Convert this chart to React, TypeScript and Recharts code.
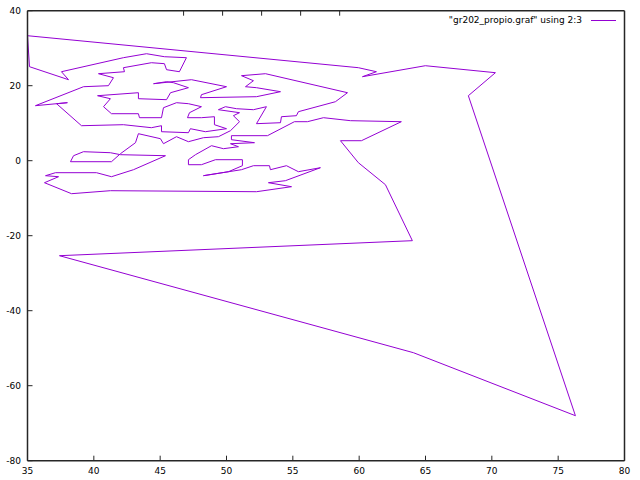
import { Legend, Line, LineChart, XAxis, YAxis } from "recharts";

// tour order (column 2 = x, column 3 = y)
const tourX = [
  35.0, 59.94, 61.3, 60.25, 64.99, 70.27, 68.23, 76.3, 64.09, 37.41,
  64.01, 61.98, 59.94, 58.59, 60.17, 63.18, 59.34, 57.31, 56.1, 55.12,
  53.09, 50.37, 50.37, 52.11, 50.3, 50.9, 49.77, 48.87, 47.66, 47.13,
  47.13, 48.11, 49.17, 51.2, 51.2, 50.15, 48.26, 51.13, 52.03, 53.24,
  53.31, 54.52, 55.42, 57.08, 54.44, 53.16, 54.9, 52.26, 41.25, 38.32,
  36.28, 37.34, 36.36, 37.11, 40.2, 41.33, 42.99, 45.4, 42.01, 41.25,
  39.22, 38.47, 38.24, 41.33, 42.01, 43.14, 43.36, 45.02, 45.25, 46.23,
  47.13, 48.26, 49.39, 50.3, 50.98, 50.52, 50.98, 49.39, 49.92, 50.75,
  52.03, 53.01, 52.26, 54.07, 54.14, 55.27, 55.42, 58.21, 59.12, 52.94,
  51.13, 52.03, 51.43, 52.26, 54.07, 52.26, 48.04, 48.11, 50.0, 47.36,
  44.5, 45.48, 46.0, 47.13, 45.78, 45.48, 43.36, 43.36, 40.28, 41.25,
  40.73, 41.33, 43.36, 43.44, 45.1, 45.25, 46.23, 47.13, 48.11, 47.21,
  47.06, 48.11, 49.09, 49.09, 50.0, 48.41, 47.28, 47.13, 45.1, 45.1,
  44.34, 42.23, 39.07, 37.19, 38.01, 35.6, 39.22, 41.1, 41.48, 40.35,
  42.31, 42.23, 44.34, 45.32, 45.48, 46.45, 46.98, 45.32, 43.97, 42.23,
  37.56, 38.09, 35.15, 35.0,
];

const tourY = [
  33.33, 24.8, 23.73, 22.4, 25.33, 23.47, 17.33, -68.0, -51.2, -25.33,
  -21.33, -6.4, -0.53, 5.33, 5.33, 10.4, 10.67, 11.47, 10.4, 10.4,
  6.67, 6.67, 5.6, 4.8, 4.53, 3.73, 3.2, 4.0, 1.6, 0.27,
  -1.07, -1.07, 0.27, 0.27, -1.33, -2.93, -4.0, -2.4, -1.33, -1.33,
  -2.4, -1.33, -2.93, -1.87, -5.33, -5.87, -6.93, -8.27, -8.0, -8.8,
  -5.87, -4.27, -4.0, -3.2, -3.2, -4.27, -2.4, 1.33, 1.6, 2.13,
  2.4, 1.33, -0.27, -0.27, 1.87, 4.8, 7.2, 5.87, 4.53, 6.4,
  5.07, 6.13, 6.4, 8.0, 10.4, 12.0, 12.8, 13.6, 14.4, 13.87,
  13.6, 14.4, 9.87, 10.13, 11.73, 12.0, 13.07, 15.73, 18.13, 23.2,
  22.67, 21.33, 19.73, 19.47, 18.4, 17.07, 16.8, 17.6, 19.73, 21.6,
  20.53, 21.07, 20.8, 19.47, 18.13, 16.27, 16.53, 18.13, 17.33, 16.53,
  14.4, 12.53, 12.53, 11.47, 11.47, 14.13, 15.47, 15.2, 14.4, 12.8,
  11.47, 11.47, 11.73, 9.6, 8.53, 7.73, 8.53, 7.47, 7.73, 9.33,
  8.8, 9.6, 9.33, 15.2, 15.47, 14.67, 19.73, 20.0, 22.13, 23.2,
  23.73, 24.8, 26.13, 25.87, 24.27, 23.73, 27.47, 27.73, 28.53, 27.47,
  23.73, 21.6, 25.07, 33.33,
];

const xTicks = [35, 40, 45, 50, 55, 60, 65, 70, 75, 80];
const yTicks = [-80, -60, -40, -20, 0, 20, 40];

const seriesName = '"gr202_propio.graf" using 2:3';
const lineColor = "#9400d3";
const frameColor = "#262626";

const data = tourX.map((x, i) => ({ x, y: tourY[i] }));

const font = { fontFamily: "DejaVu Sans", fontSize: 9, fill: "#000" };

// gnuplot style: short ticks pointing into the plot, labels outside
function BottomTick(props: any) {
  const { x, y, payload } = props;
  return (
    <g>
      <line x1={x} x2={x} y1={y - 7} y2={y - 12} stroke={frameColor} />
      <text x={x} y={y} dy="0.71em" textAnchor="middle" {...font}>
        {payload.value}
      </text>
    </g>
  );
}

function TopTick(props: any) {
  const { x, y } = props;
  return <line x1={x} x2={x} y1={y} y2={y + 5} stroke={frameColor} />;
}

function LeftTick(props: any) {
  const { x, y, payload } = props;
  return (
    <g>
      <line x1={x + 6.5} x2={x + 11.5} y1={y} y2={y} stroke={frameColor} />
      <text x={x} y={y} dy="0.355em" textAnchor="end" {...font}>
        {payload.value}
      </text>
    </g>
  );
}

function RightTick(props: any) {
  const { x, y } = props;
  return <line x1={x} x2={x - 5} y1={y} y2={y} stroke={frameColor} />;
}

function KeyBox() {
  return (
    <div
      style={{
        display: "flex",
        alignItems: "center",
        justifyContent: "flex-end",
        fontFamily: "DejaVu Sans",
        fontSize: 9,
        color: "#000",
      }}
    >
      <span>{seriesName}</span>
      <div style={{ width: 25, height: 1, background: lineColor, marginLeft: 9 }} />
    </div>
  );
}

export default function App() {
  return (
    <div style={{ position: "fixed", left: 0, top: 0, width: 640, height: 480, background: "#fff" }}>
      <LineChart
        width={640}
        height={480}
        data={data}
        margin={{ top: 0, right: 0, bottom: 0, left: 0 }}
      >
        <XAxis
          xAxisId="b"
          dataKey="x"
          type="number"
          domain={[35, 80]}
          ticks={xTicks}
          allowDataOverflow
          height={19.3}
          tickSize={0}
          tickMargin={7}
          tickLine={false}
          tick={<BottomTick />}
          axisLine={{ stroke: frameColor, strokeWidth: 1.5 }}
        />
        <XAxis
          xAxisId="t"
          orientation="top"
          type="number"
          domain={[35, 80]}
          ticks={xTicks}
          height={10.7}
          tickSize={0}
          tickMargin={0}
          tickLine={false}
          tick={<TopTick />}
          axisLine={{ stroke: frameColor, strokeWidth: 1.5 }}
        />
        <YAxis
          yAxisId="l"
          type="number"
          domain={[-80, 40]}
          ticks={yTicks}
          allowDataOverflow
          width={27.5}
          tickSize={0}
          tickMargin={6.5}
          tickLine={false}
          tick={<LeftTick />}
          axisLine={{ stroke: frameColor, strokeWidth: 1.5 }}
        />
        <YAxis
          yAxisId="r"
          orientation="right"
          type="number"
          domain={[-80, 40]}
          ticks={yTicks}
          width={15.5}
          tickSize={0}
          tickMargin={0}
          tickLine={false}
          tick={<RightTick />}
          axisLine={{ stroke: frameColor, strokeWidth: 1.5 }}
        />
        <Legend
          layout="horizontal"
          verticalAlign="middle"
          align="center"
          content={() => <KeyBox />}
          wrapperStyle={{ top: 15, right: 24, left: "auto", width: 260 }}
        />
        <Line
          xAxisId="b"
          yAxisId="l"
          dataKey="y"
          type="linear"
          stroke={lineColor}
          strokeWidth={1}
          dot={false}
          isAnimationActive={false}
        />
      </LineChart>
    </div>
  );
}
